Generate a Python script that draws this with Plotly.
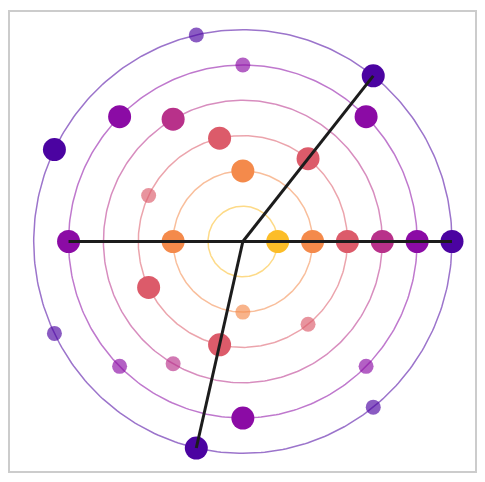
import numpy as np
import plotly.graph_objects as go

# ring radii and colors
radii = [1, 2, 3, 4, 5, 6]
ring_colors = ["#fcbd28", "#f48a4b", "#dc5b6a", "#b8318a", "#8b0ba5", "#4b03a1"]
# number of equally spaced points on each ring
ring_counts = [1, 4, 7, 3, 8, 7]
# 1 = large opaque marker, 0 = small translucent marker
ring_big = [
    [1],
    [1, 1, 1, 0],
    [1, 1, 1, 0, 1, 1, 0],
    [1, 1, 0],
    [1, 1, 0, 1, 1, 0, 1, 0],
    [1, 1, 0, 1, 0, 1, 0],
]
# spokes: (ring radius, angle in degrees)
spoke_r = [6, 6, 6, 5]
spoke_deg = [0, 360 / 7, 5 * 360 / 7, 180]

fig = go.Figure()
t = np.linspace(0, 2 * np.pi, 361)
for r, c in zip(radii, ring_colors):
    fig.add_trace(go.Scatter(x=r * np.cos(t), y=r * np.sin(t), mode="lines",
                             line=dict(color=c, width=1.5), opacity=0.55,
                             hoverinfo="skip", showlegend=False))

for r, c, n, big in zip(radii, ring_colors, ring_counts, ring_big):
    ang = np.arange(n) * 2 * np.pi / n
    big = np.array(big)
    for flag, size, op in [(0, 15, 0.65), (1, 23, 1.0)]:
        m = big == flag
        if m.any():
            fig.add_trace(go.Scatter(x=r * np.cos(ang[m]), y=r * np.sin(ang[m]), mode="markers",
                                     marker=dict(color=c, size=size, opacity=op, line=dict(width=0)),
                                     showlegend=False))

sx, sy = [], []
for r, d in zip(spoke_r, spoke_deg):
    a = np.deg2rad(d)
    sx += [0, r * np.cos(a), None]
    sy += [0, r * np.sin(a), None]
fig.add_trace(go.Scatter(x=sx, y=sy, mode="lines", line=dict(color="#1c1c1c", width=3),
                         showlegend=False))

fig.update_layout(
    width=477, height=474,
    margin=dict(l=2, r=10, t=2, b=11),
    paper_bgcolor="white", plot_bgcolor="white",
    xaxis=dict(range=[-6.68, 6.66], showgrid=False, zeroline=False, showticklabels=False,
               ticks="", showline=True, mirror=True, linecolor="#cccccc", linewidth=2),
    yaxis=dict(range=[-6.5, 6.5], showgrid=False, zeroline=False, showticklabels=False,
               ticks="", showline=True, mirror=True, linecolor="#cccccc", linewidth=2),
)
fig.write_html("out.html")
